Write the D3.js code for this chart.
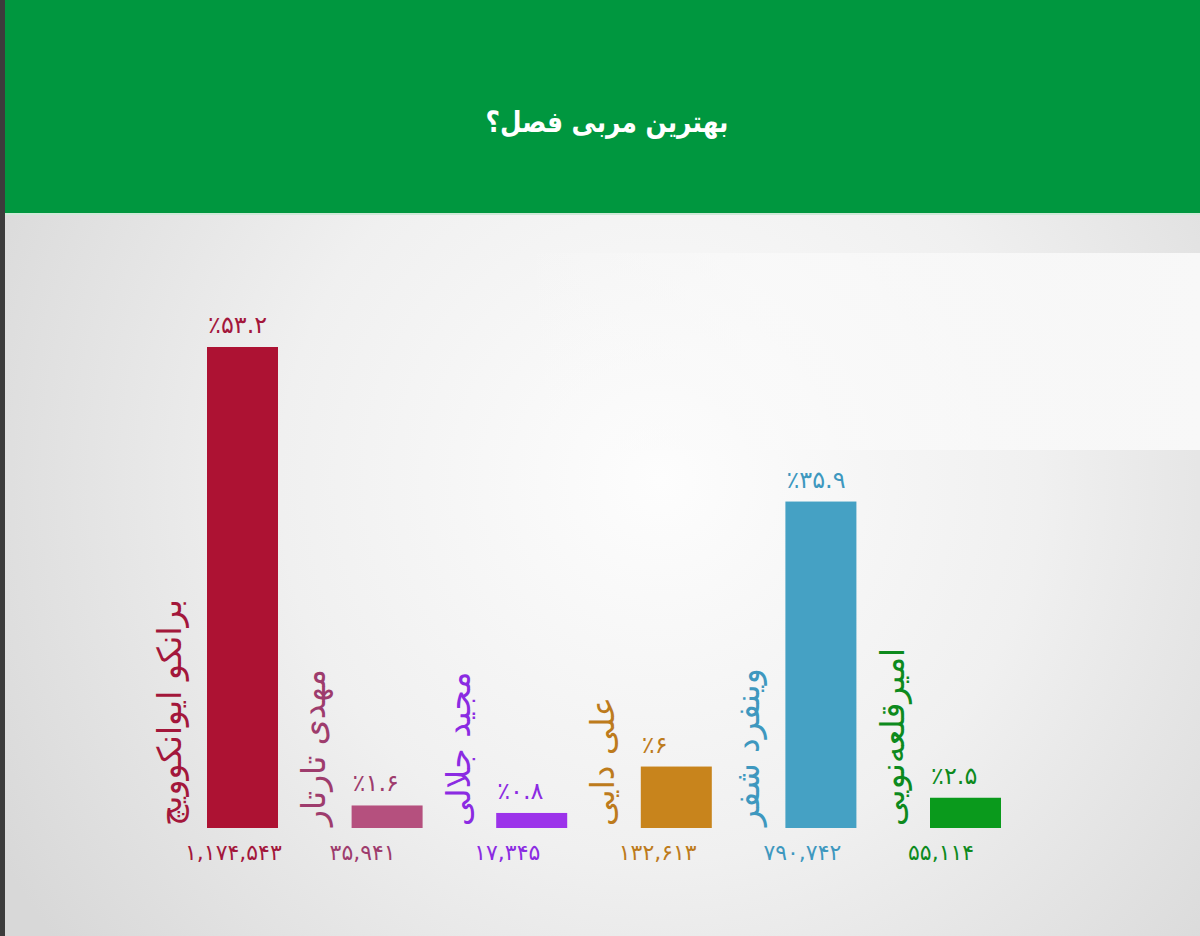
<!DOCTYPE html>
<html><head><meta charset="utf-8">
<script src="https://cdn.jsdelivr.net/npm/d3@7/dist/d3.min.js"></script>
<style>html,body{margin:0;padding:0;background:#e0e0e0;}svg{display:block;}</style>
</head><body>
<svg id="c" width="1200" height="936"></svg>
<script>
const title = "بهترین مربی فصل؟";
const names = ["برانکو ایوانکوویچ","مهدی تارتار","مجید جلالی","علی دایی","وینفرد شفر","امیرقلعه‌نویی"];
const votes = [1174543, 35941, 17345, 132613, 790742, 55114];
const voteLabels = ["۱,۱۷۴,۵۴۳","۳۵,۹۴۱","۱۷,۳۴۵","۱۳۲,۶۱۳","۷۹۰,۷۴۲","۵۵,۱۱۴"];
const pctLabels = ["٪۵۳.۲","٪۱.۶","٪۰.۸","٪۶","٪۳۵.۹","٪۲.۵"];
const barColors = ["#ad1233","#b5507e","#9c33ea","#c8841c","#45a1c4","#0a9a1c"];
const textColors = ["#a3173b","#9e3c6d","#8b2be2","#bd7b1c","#3e98bf","#0d8a1d"];

const svg = d3.select("#c");
const defs = svg.append("defs");
const rg = defs.append("radialGradient").attr("id","bg").attr("gradientUnits","userSpaceOnUse")
  .attr("cx",660).attr("cy",480).attr("r",760);
rg.append("stop").attr("offset",0).attr("stop-color","#fdfdfd");
rg.append("stop").attr("offset",0.5).attr("stop-color","#f0f0f0");
rg.append("stop").attr("offset",1).attr("stop-color","#d8d8d8");
const lg = defs.append("linearGradient").attr("id","panel").attr("x1",0).attr("x2",1).attr("y1",0).attr("y2",0);
lg.append("stop").attr("offset",0).attr("stop-color","#fafafa").attr("stop-opacity",0);
lg.append("stop").attr("offset",0.35).attr("stop-color","#fafafa").attr("stop-opacity",0.7);
lg.append("stop").attr("offset",1).attr("stop-color","#f8f8f8").attr("stop-opacity",1);

svg.append("rect").attr("width",1200).attr("height",936).attr("fill","url(#bg)");
svg.append("rect").attr("x",520).attr("y",253).attr("width",680).attr("height",197).attr("fill","url(#panel)");
// header
svg.append("rect").attr("x",0).attr("y",0).attr("width",1200).attr("height",213).attr("fill","#00973f");
svg.append("rect").attr("x",0).attr("y",213).attr("width",1200).attr("height",2).attr("fill","#cfe9d8");
svg.append("rect").attr("x",0).attr("y",0).attr("width",5).attr("height",936).attr("fill","#3c3c3c");
svg.append("text").attr("transform","translate(607,122) scale(0.92,1.08)").attr("text-anchor","middle").attr("dominant-baseline","central")
  .attr("fill","#ffffff").attr("font-family","DejaVu Sans").attr("font-weight","bold").attr("font-size",27)
  .text(title);

const x = d3.scaleBand().domain(names).range([207,1001]).paddingInner(0.509).paddingOuter(0);
const y = d3.scaleLinear().domain([-20000, 1174543]).range([828, 347]);
const data = names.map((n,i)=>({n,i,v:votes[i]}));

svg.append("g").selectAll("rect").data(data).join("rect")
  .attr("x",d=>x(d.n)).attr("width",x.bandwidth())
  .attr("y",d=>y(d.v)).attr("height",d=>y(-20000)-y(d.v))
  .attr("fill",d=>barColors[d.i]);

svg.append("g").selectAll("text").data(data).join("text")
  .attr("x",d=>x(d.n)+1).attr("y",d=>y(d.v)-22)
  .attr("dominant-baseline","central").attr("text-anchor","start")
  .attr("font-family","DejaVu Sans").attr("font-size",24)
  .attr("fill",d=>textColors[d.i]).text(d=>pctLabels[d.i]);

svg.append("g").selectAll("text").data(data).join("text")
  .attr("x",d=>x(d.n)-22).attr("y",852)
  .attr("dominant-baseline","central").attr("text-anchor","start")
  .attr("font-family","DejaVu Sans").attr("font-size",22)
  .attr("fill",d=>textColors[d.i]).text(d=>voteLabels[d.i]);

svg.append("g").selectAll("text").data(data).join("text")
  .attr("transform",d=>`translate(${x(d.n)-38},826) rotate(-90)`)
  .attr("dominant-baseline","central").attr("text-anchor","start")
  .attr("font-family","DejaVu Sans").attr("font-size",33)
  .attr("fill",d=>textColors[d.i]).text(d=>d.n);
</script>
</body></html>
